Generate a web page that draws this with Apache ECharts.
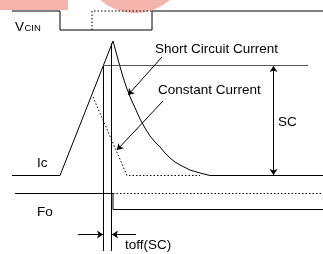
<!DOCTYPE html>
<html>
<head>
<meta charset="utf-8">
<script src="https://cdn.jsdelivr.net/npm/echarts@6/dist/echarts.min.js"></script>
<style>
  html, body { margin: 0; padding: 0; background: #fff; }
  #chart { width: 323px; height: 254px; }
</style>
</head>
<body>
<div id="chart"></div>
<script>
// waveform points, x = time, y = level (drawing units, y grows downward)
var vcinSolid = [[12, 11], [60, 11], [60, 30], [152, 30], [152, 11], [323, 11]];
var vcinDotted = [[92, 30], [92, 11], [152, 11]];

var icRamp = [[12, 175.5], [60, 175.5], [113, 41]];
var shortCircuit = [
  [113, 41], [116, 52], [119, 63], [123, 77], [127, 89], [131, 99], [136, 110],
  [140, 119], [145, 128], [150, 136], [155, 142], [160, 147], [165, 153],
  [170, 158], [175, 162], [180, 165], [190, 170], [200, 173], [210, 175.5], [323, 175.5]
];
var constantCurrent = [[93, 97], [127, 175.5], [200, 175.5]];
var scTop = [[103, 65.5], [308, 65.5]];

var markerLeft = [[103.5, 66], [103.5, 251]];
var markerRight = [[111.5, 43], [111.5, 251]];

var foSolid = [[15, 193.5], [113, 193.5], [113, 209.5], [323, 209.5]];
var foDotted = [[113, 193.5], [323, 193.5]];

// arrows: from -> to
var singleArrows = [
  [[162, 57], [128, 95]],
  [[163, 101], [117, 150]],
  [[78, 234.5], [103, 234.5]],
  [[136, 234.5], [112, 234.5]]
];
var doubleArrows = [
  [[273.5, 66], [273.5, 175]]
];

var chart = echarts.init(document.getElementById("chart"));

function wave(data, color, type) {
  return {
    type: "line",
    data: data,
    showSymbol: false,
    animation: false,
    silent: true,
    lineStyle: { color: color, width: 1, type: type || "solid" },
    z: 3
  };
}

function arrows(data, symbols) {
  return {
    type: "lines",
    coordinateSystem: "cartesian2d",
    data: data.map(function (d) { return { coords: d }; }),
    symbol: symbols,
    symbolSize: 6,
    animation: false,
    silent: true,
    lineStyle: { color: "#000", width: 1, opacity: 1 },
    z: 4
  };
}

var font = "Liberation Sans, Arial, sans-serif";
var dots = [1.5, 2];

function label(text, x, y, size) {
  return {
    type: "text",
    x: x,
    y: y,
    z: 10,
    style: {
      text: text,
      fill: "#000",
      fontSize: size || 13.5,
      fontFamily: font,
      verticalAlign: "middle"
    }
  };
}

chart.setOption({
  backgroundColor: "#fff",
  animation: false,
  grid: { left: 0, right: 0, top: 0, bottom: 0 },
  xAxis: { type: "value", min: 0, max: 323, show: false },
  yAxis: { type: "value", min: 0, max: 254, inverse: true, show: false },
  graphic: [
    // watermark shapes at the top
    { type: "rect", shape: { x: 0, y: 0, width: 68, height: 10 }, style: { fill: "#f5b5ad" }, z: 0 },
    { type: "circle", shape: { cx: 135, cy: -40, r: 53 }, style: { fill: "#f5b5ad" }, z: 0 },
    label("V", 15, 27, 13.5),
    label("CIN", 24.5, 28, 9.5),
    label("Short Circuit Current", 155, 49),
    label("Constant Current", 158, 90),
    label("SC", 278, 122),
    label("Ic", 37, 163),
    label("Fo", 37, 212),
    label("toff(SC)", 125, 245)
  ],
  series: [
    wave(vcinSolid, "#000"),
    wave(vcinDotted, "#000", dots),
    wave(icRamp, "#000"),
    wave(shortCircuit, "#000"),
    wave(constantCurrent, "#000", dots),
    wave(scTop, "#555"),
    wave(markerLeft, "#000"),
    wave(markerRight, "#000"),
    wave(foSolid, "#000"),
    wave(foDotted, "#000", dots),
    arrows(singleArrows, ["none", "arrow"]),
    arrows(doubleArrows, ["arrow", "arrow"])
  ]
});
</script>
</body>
</html>
